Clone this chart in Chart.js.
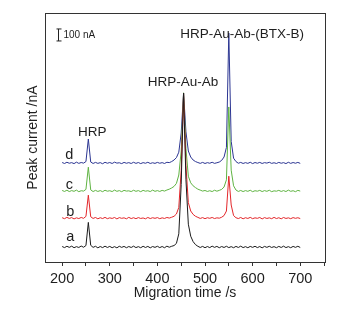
<!DOCTYPE html>
<html>
<head>
<meta charset="utf-8">
<script src="https://cdn.jsdelivr.net/npm/chart.js@4.4.0/dist/chart.umd.min.js"></script>
<style>
  html, body { margin: 0; padding: 0; background: #fff; }
  #wrap { width: 343px; height: 311px; position: relative; }
</style>
</head>
<body>
<div id="wrap"><canvas id="chart"></canvas></div>
<script>

// migration time (s), one sample every 5 s
var TIME = [200,205,210,215,220,225,230,235,240,245,
            250,255,260,265,270,275,280,285,290,295,
            300,305,310,315,320,325,330,335,340,345,
            350,355,360,365,370,375,380,385,390,395,
            400,405,410,415,420,425,430,435,440,445,
            450,455,460,465,470,475,480,485,490,495,
            500,505,510,515,520,525,530,535,540,545,
            550,555,560,565,570,575,580,585,590,595,
            600,605,610,615,620,625,630,635,640,645,
            650,655,660,665,670,675,680,685,690,695,700];

// peak current (nA), traces offset as in the figure
var TRACE_A = [4,-5,6,-3,7,-6,3,-4,8,-2,
               12,205,14,-3,6,-7,4,-5,7,-4,
               5,-6,3,-7,6,-3,5,-6,4,-4,
               7,-5,3,-6,6,-4,5,-7,4,-3,
               6,-5,4,-6,7,-2,6,12,30,110,
               520,1283,560,190,90,45,20,6,-4,5,
               -6,4,-5,7,-3,5,-6,4,-4,6,
               -5,3,-6,5,-4,7,-5,3,-6,5,
               -3,6,-5,4,-7,5,-3,6,-4,3,
               -6,5,-4,7,-5,3,-6,5,-3,6,-4];

var TRACE_B = [244,236,247,238,245,234,243,237,246,239,
               255,432,252,238,246,235,244,237,247,236,
               243,238,246,234,245,239,243,235,247,237,
               244,236,245,238,242,235,246,237,244,239,
               245,236,243,238,246,241,248,256,275,330,
               640,1280,680,370,300,272,256,247,238,245,
               236,244,239,246,237,243,240,248,262,300,
               590,350,262,244,237,246,235,244,238,247,
               236,243,239,246,234,245,238,243,236,247,
               237,244,235,246,238,243,236,245,239,244,237];

var TRACE_C = [471,463,473,462,470,464,474,461,469,466,
               480,665,476,462,472,463,470,461,473,465,
               469,462,474,464,470,461,472,466,468,462,
               473,464,470,461,472,465,469,462,474,464,
               470,463,472,466,475,482,492,505,530,600,
               800,1285,820,590,535,510,495,482,474,466,
               471,463,469,462,473,465,472,480,500,560,
               1167,640,510,475,463,471,462,470,464,473,
               461,469,465,472,462,470,464,473,461,468,
               465,472,463,470,462,474,464,469,461,472,466];

var TRACE_D = [704,696,706,698,703,695,707,697,704,699,
               712,900,708,696,705,697,703,694,706,698,
               704,696,707,699,702,695,705,698,703,696,
               706,697,704,695,703,698,706,696,702,697,
               705,698,703,696,706,703,712,725,745,790,
               950,1283,960,800,750,725,712,704,697,705,
               696,703,698,706,697,702,708,722,750,830,
               1783,880,740,712,698,705,696,703,697,706,
               695,704,698,705,696,703,699,706,697,702,
               696,705,698,703,695,706,697,704,698,705,697];

var TRACE_NAMES = ["a", "b", "c", "d"];
var TRACE_COLORS = ["#1b1b1b", "#e3262a", "#5fb342", "#2b3592"];

// text labels, placed in data units (time, nA)
var LABEL_TEXT = ["a", "b", "c", "d", "HRP", "HRP-Au-Ab", "HRP-Au-Ab-(BTX-B)"];
var LABEL_X    = [217, 217, 215, 215, 263, 454, 578];
var LABEL_Y    = [83, 292, 517, 767, 958, 1375, 1775];

// scale bar: 100 nA
var BAR_TIME = 191;
var BAR_FROM = 1717;
var BAR_TO = 1817;

var FONT = "'Liberation Sans', Arial, sans-serif";

var annotate = {
    id: "annotate",
    afterDatasetsDraw: function(chart){
        var ctx = chart.ctx;
        var x = chart.scales.x, y = chart.scales.y;
        var area = chart.chartArea;
        ctx.save();
        ctx.fillStyle = "#1e1e1e";
        ctx.textAlign = "center";
        ctx.textBaseline = "middle";
        for (var i = 0; i < LABEL_TEXT.length; i++){
            ctx.font = (i < 4 ? "14.5px " : "13.5px ") + FONT;
            ctx.fillText(LABEL_TEXT[i], x.getPixelForValue(LABEL_X[i]), y.getPixelForValue(LABEL_Y[i]));
        }
        // scale bar
        var bx = Math.round(x.getPixelForValue(BAR_TIME)) + 0.5;
        var y0 = y.getPixelForValue(BAR_FROM), y1 = y.getPixelForValue(BAR_TO);
        ctx.strokeStyle = "#222";
        ctx.lineWidth = 1;
        ctx.beginPath();
        ctx.moveTo(bx, y0); ctx.lineTo(bx, y1);
        ctx.moveTo(bx - 2, y0); ctx.lineTo(bx + 3, y0);
        ctx.moveTo(bx - 2, y1); ctx.lineTo(bx + 3, y1);
        ctx.stroke();
        ctx.font = "10px " + FONT;
        ctx.textAlign = "left";
        ctx.fillText("100 nA", bx + 5, (y0 + y1) / 2);
        // frame
        ctx.strokeStyle = "#333";
        ctx.strokeRect(Math.round(area.left) + 0.5, Math.round(area.top) + 0.5,
                       Math.round(area.right - area.left), Math.round(area.bottom - area.top));
        ctx.restore();
    }
};

function make_dataset(values, i){
    return {
        label: TRACE_NAMES[i],
        data: TIME.map(function(t, k){ return {x: t, y: values[k]}; }),
        borderColor: TRACE_COLORS[i],
        borderWidth: 1,
        pointRadius: 0,
        tension: 0,
        fill: false
    };
}

function draw_chart(){
    var traces = [TRACE_A, TRACE_B, TRACE_C, TRACE_D];

    new Chart("chart", {
    type: "line",
    data: {
        datasets: traces.map(make_dataset)
    },
    plugins: [annotate],
    options: {
        responsive: true,
        maintainAspectRatio: false,
        animation: false,
        layout: {padding: {top: 13, right: 18, left: 0, bottom: 0}},
        plugins: {
            legend: {display: false},
            tooltip: {enabled: false}
        },
        scales: {
            x: {
                type: "linear",
                min: 164,
                max: 752,
                border: {display: false},
                grid: {drawOnChartArea: false, color: "#333", tickLength: 4},
                ticks: {
                    stepSize: 50,
                    includeBounds: false,
                    maxRotation: 0,
                    autoSkip: false,
                    color: "#1e1e1e",
                    font: {family: FONT, size: 14.5},
                    padding: 4,
                    callback: function(v){ return v % 100 === 0 ? String(v) : ""; }
                },
                title: {
                    display: true,
                    text: "Migration time /s",
                    color: "#1e1e1e",
                    font: {family: FONT, size: 14},
                    padding: {top: 0, bottom: 9}
                },
                afterFit: function(s){ s.height = 49; }
            },
            y: {
                type: "linear",
                min: -125,
                max: 1950,
                border: {display: false},
                grid: {display: false},
                ticks: {display: false},
                title: {
                    display: true,
                    text: "Peak current /nA",
                    color: "#1e1e1e",
                    font: {family: FONT, size: 14},
                    padding: {top: 25, bottom: 0}
                },
                afterFit: function(s){ s.width = 45; }
            }
        }
    }
    });
}

draw_chart();
</script>
</body>
</html>
